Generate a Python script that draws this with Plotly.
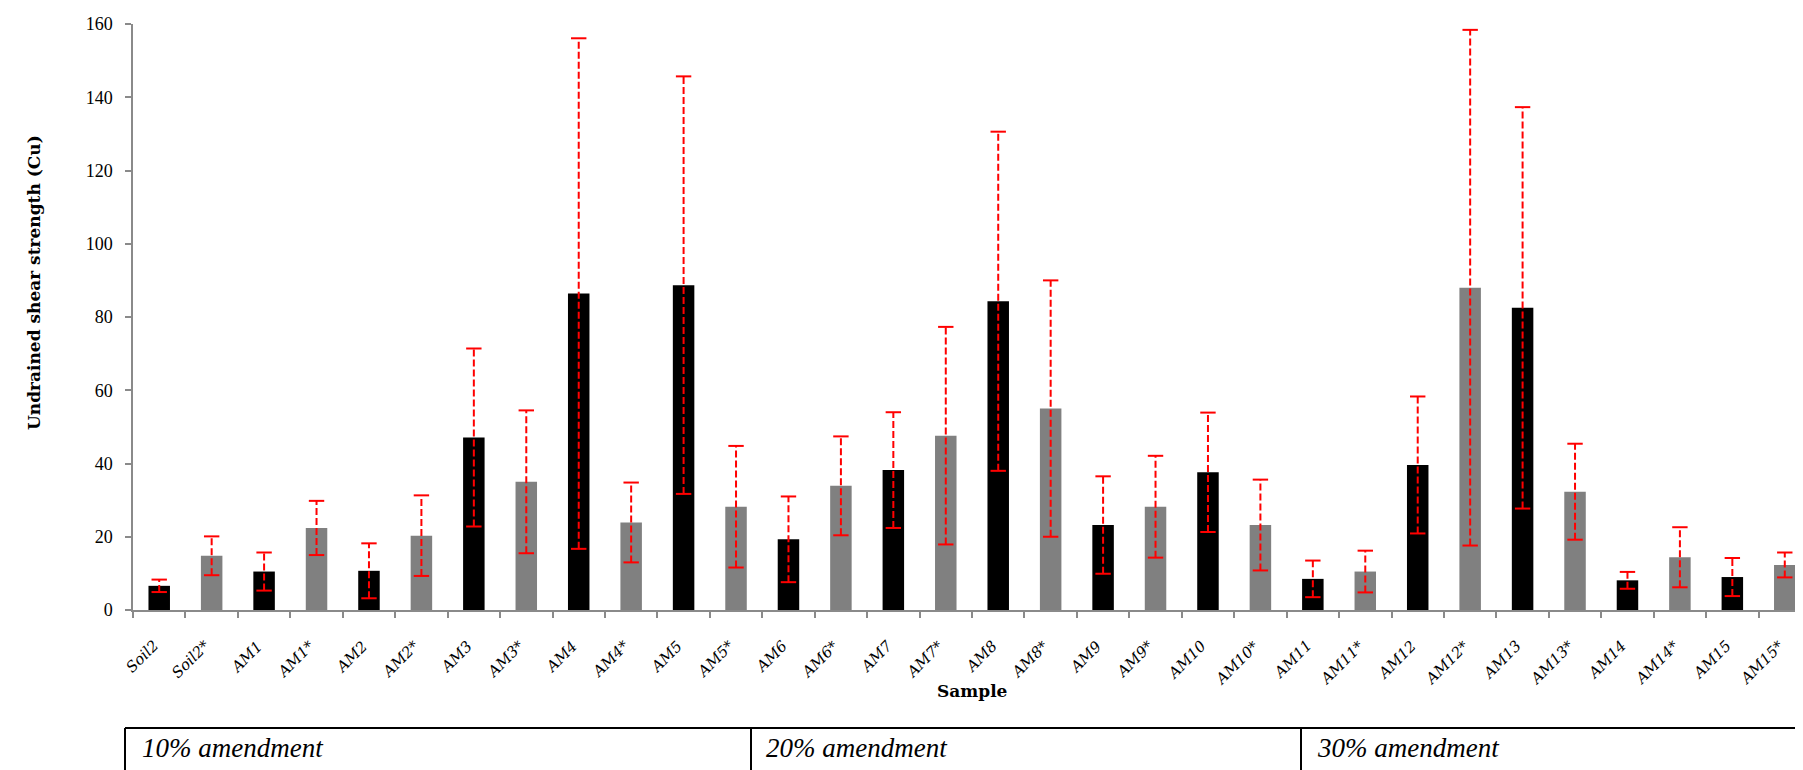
import plotly.graph_objects as go

# ---------------- data ----------------
categories = ["Soil2", "Soil2*", "AM1", "AM1*", "AM2", "AM2*", "AM3", "AM3*",
              "AM4", "AM4*", "AM5", "AM5*", "AM6", "AM6*", "AM7", "AM7*",
              "AM8", "AM8*", "AM9", "AM9*", "AM10", "AM10*", "AM11", "AM11*",
              "AM12", "AM12*", "AM13", "AM13*", "AM14", "AM14*", "AM15", "AM15*"]
means = [6.6, 14.8, 10.5, 22.4, 10.7, 20.3, 47.1, 35.0,
         86.4, 23.9, 88.7, 28.2, 19.3, 33.9, 38.2, 47.6,
         84.3, 55.0, 23.2, 28.2, 37.6, 23.2, 8.5, 10.5,
         39.6, 88.0, 82.5, 32.3, 8.1, 14.4, 9.0, 12.3]
errors = [1.7, 5.3, 5.2, 7.4, 7.5, 11.0, 24.3, 19.5,
          69.7, 10.9, 57.0, 16.6, 11.7, 13.5, 15.8, 29.7,
          46.3, 35.0, 13.3, 13.9, 16.3, 12.4, 5.0, 5.7,
          18.7, 70.4, 54.8, 13.1, 2.3, 8.2, 5.2, 3.4]
y_ticks = [0, 20, 40, 60, 80, 100, 120, 140, 160]
groups = ["10% amendment", "20% amendment", "30% amendment"]

# ---------------- layout geometry (pixels) ----------------
W, H = 1803, 770
L, R, T, B = 125, 0, 16, 168
PW, PH = W - L - R, H - T - B


def xp(px):
    return (px - L) / PW


def yp(py):
    return (H - B - py) / PH


SERIF = "Liberation Serif"
WIDE_SERIF = "DejaVu Serif"
AXIS_GRAY = "#8a8a8a"

fig = go.Figure()

bar_colors = ["#808080" if c.endswith("*") else "#000000" for c in categories]
fig.add_trace(go.Bar(
    x=categories, y=means, width=0.41,
    marker=dict(color=bar_colors, line=dict(width=0)),
    showlegend=False, hoverinfo="x+y",
))

# dashed red error bars
ex, ey = [], []
for c, m, e in zip(categories, means, errors):
    ex += [c, c, None]
    ey += [m - e, m + e, None]
fig.add_trace(go.Scatter(
    x=ex, y=ey, mode="lines",
    line=dict(color="#ff0000", width=2, dash="7px,3px"),
    showlegend=False, hoverinfo="skip",
))
# caps
cap_x = categories + categories
cap_y = [m + e for m, e in zip(means, errors)] + [m - e for m, e in zip(means, errors)]
fig.add_trace(go.Scatter(
    x=cap_x, y=cap_y, mode="markers",
    marker=dict(symbol="line-ew", size=11, color="#ff0000",
                line=dict(color="#ff0000", width=2)),
    showlegend=False, hoverinfo="skip",
))

fig.update_xaxes(
    type="category", range=[-0.5, len(categories) - 0.5],
    tickson="boundaries", ticks="outside", ticklen=6, tickwidth=1.5, tickcolor=AXIS_GRAY,
    showline=True, linecolor=AXIS_GRAY, linewidth=1.5, showgrid=False,
    showticklabels=False,
)
fig.update_yaxes(
    range=[0, 160], tickvals=y_ticks, ticks="outside", ticklen=6, tickwidth=1.5,
    tickcolor=AXIS_GRAY, showline=True, linecolor=AXIS_GRAY, linewidth=1.5,
    showgrid=False, zeroline=False,
    tickfont=dict(family=SERIF, size=18, color="#000000"),
    ticklabelstandoff=9,
)

annotations = []
# rotated category labels, tied to the category axis
for c in categories:
    annotations.append(dict(
        text=c, x=c, xref="x", y=yp(626), yref="paper", xshift=5,
        showarrow=False, textangle=-45, xanchor="right", yanchor="top",
        font=dict(family=WIDE_SERIF, size=15, color="#000000", style="italic")))

annotations += [
    dict(text="<b>Sample</b>", x=xp(964), y=yp(683), xref="paper", yref="paper",
         showarrow=False, xanchor="center", yanchor="middle",
         font=dict(family=WIDE_SERIF, size=17, color="#000000")),
    dict(text="<b>Undrained shear strength (Cu)</b>", x=xp(26), y=yp(275),
         xref="paper", yref="paper", showarrow=False, textangle=-90,
         xanchor="center", yanchor="middle",
         font=dict(family=WIDE_SERIF, size=17, color="#000000")),
]
for label, px in zip(groups, [132, 756, 1307]):
    annotations.append(dict(
        text=label, x=xp(px), y=yp(740), xref="paper", yref="paper",
        showarrow=False, xanchor="left", yanchor="middle",
        font=dict(family=SERIF, size=27, color="#000000", style="italic")))

line_style = dict(color="#000000", width=2)
shapes = [dict(type="line", xref="paper", yref="paper",
               x0=xp(117), x1=xp(1800), y0=yp(720), y1=yp(720), line=line_style)]
for px in [117, 743, 1293, 1800]:
    shapes.append(dict(type="line", xref="paper", yref="paper",
                       x0=xp(px), x1=xp(px), y0=yp(720), y1=yp(775), line=line_style))

fig.update_layout(
    width=W, height=H,
    margin=dict(l=L, r=R, t=T, b=B, pad=0),
    paper_bgcolor="#ffffff", plot_bgcolor="#ffffff",
    bargap=0.59, showlegend=False,
    annotations=annotations, shapes=shapes,
    font=dict(family=SERIF),
)

fig.write_html("out.html")
